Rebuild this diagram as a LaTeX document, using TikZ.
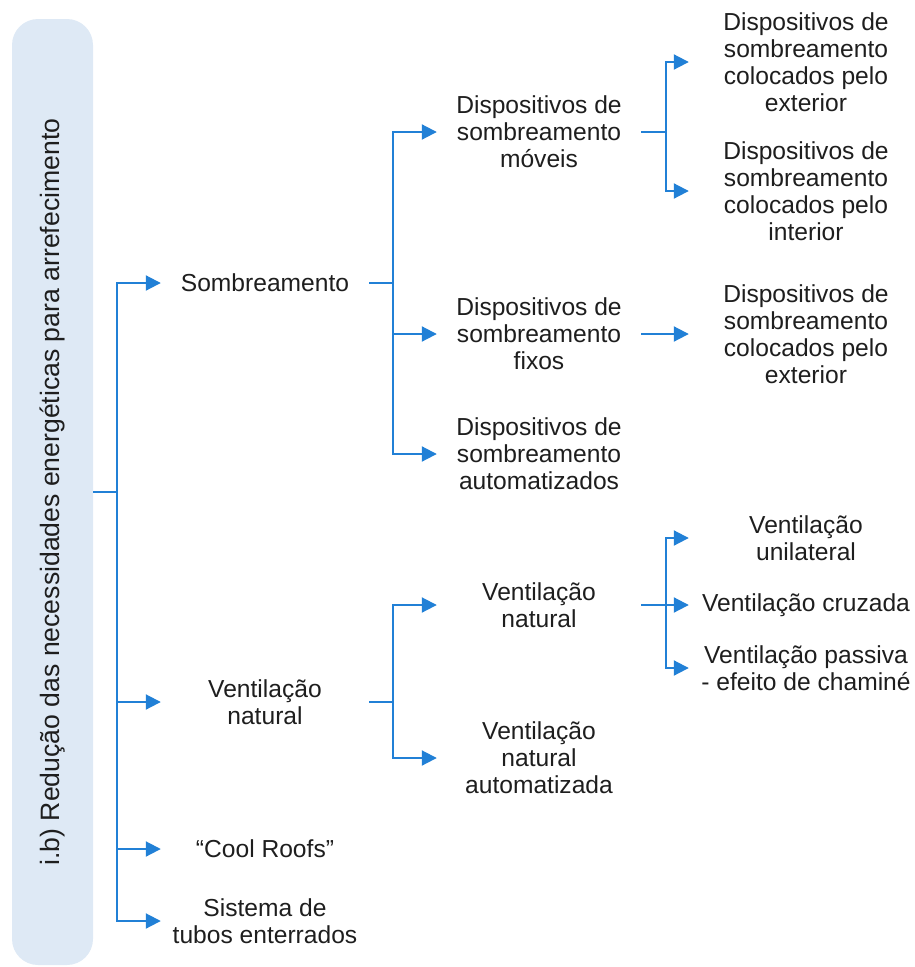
\documentclass[tikz,border=0pt]{standalone}
\usepackage{fontspec}
\setmainfont{Liberation Sans}
\usetikzlibrary{arrows.meta}
\definecolor{blu}{RGB}{33,128,214}
\definecolor{boxfill}{RGB}{222,233,245}
\definecolor{txt}{RGB}{30,30,30}
\begin{document}
\begin{tikzpicture}[x=1pt,y=-1pt,
  lbl/.style={font=\fontsize{24.6}{27}\selectfont, text=txt, align=center, inner sep=0pt},
  lone/.style={lbl, minimum width=208pt},
  ltwo/.style={lbl, minimum width=204pt},
  lthree/.style={lbl, minimum width=234pt},
  rootbox/.style={lbl, font=\fontsize{26.6}{30}\selectfont, fill=boxfill, rounded corners=26pt, minimum width=946pt, minimum height=81pt},
  conn/.style={draw=blu, line width=2pt},
  arr/.style={conn, -{Triangle[length=15pt,width=15pt]}}
]
\useasboundingbox (0,0) rectangle (915,967);

\node[rootbox, rotate=90] (root) at (52.5,492) {i.b) Redução das necessidades energéticas para arrefecimento};

% level 1
\node[lone] (som) at (265,283) {Sombreamento};
\node[lone] (ven1) at (265,702) {Ventilação\\natural};
\node[lone] (cool) at (265,849) {“Cool Roofs”};
\node[lone] (tub) at (265,921) {Sistema de\\tubos enterrados};

% level 2
\node[ltwo] (mov) at (539,132) {Dispositivos de\\sombreamento\\móveis};
\node[ltwo] (fix) at (539,334) {Dispositivos de\\sombreamento\\fixos};
\node[ltwo] (aut) at (539,454) {Dispositivos de\\sombreamento\\automatizados};
\node[ltwo] (vn2) at (539,605) {Ventilação\\natural};
\node[ltwo] (vau) at (539,758) {Ventilação\\natural\\automatizada};

% level 3
\node[lthree] (ext1) at (806,62) {Dispositivos de\\sombreamento\\colocados pelo\\exterior};
\node[lthree] (int1) at (806,191) {Dispositivos de\\sombreamento\\colocados pelo\\interior};
\node[lthree] (ext2) at (806,334) {Dispositivos de\\sombreamento\\colocados pelo\\exterior};
\node[lthree] (uni) at (806,538) {Ventilação\\unilateral};
\node[lthree] (cru) at (806,605) {Ventilação cruzada};
\node[lthree] (pas) at (806,668) {Ventilação passiva\\- efeito de chaminé};

% junctions
\coordinate (j0) at (117,492);
\coordinate (j1) at (393,283);
\coordinate (j2) at (666,132);
\coordinate (j3) at (393,702);
\coordinate (j4) at (666,605);

% connectors
\draw[conn] (root.south) -- (j0);
\draw[arr] (j0) |- (som.west);
\draw[arr] (j0) |- (ven1.west);
\draw[arr] (j0) |- (cool.west);
\draw[arr] (j0) |- (tub.west);

\draw[conn] (som.east) -- (j1);
\draw[arr] (j1) |- (mov.west);
\draw[arr] (j1) |- (fix.west);
\draw[arr] (j1) |- (aut.west);

\draw[conn] (mov.east) -- (j2);
\draw[arr] (j2) |- (ext1.west);
\draw[arr] (j2) |- (int1.west);

\draw[arr] (fix.east) -- (ext2.west);

\draw[conn] (ven1.east) -- (j3);
\draw[arr] (j3) |- (vn2.west);
\draw[arr] (j3) |- (vau.west);

\draw[conn] (vn2.east) -- (j4);
\draw[arr] (j4) |- (uni.west);
\draw[arr] (j4) -- (cru.west);
\draw[arr] (j4) |- (pas.west);
\end{tikzpicture}
\end{document}
